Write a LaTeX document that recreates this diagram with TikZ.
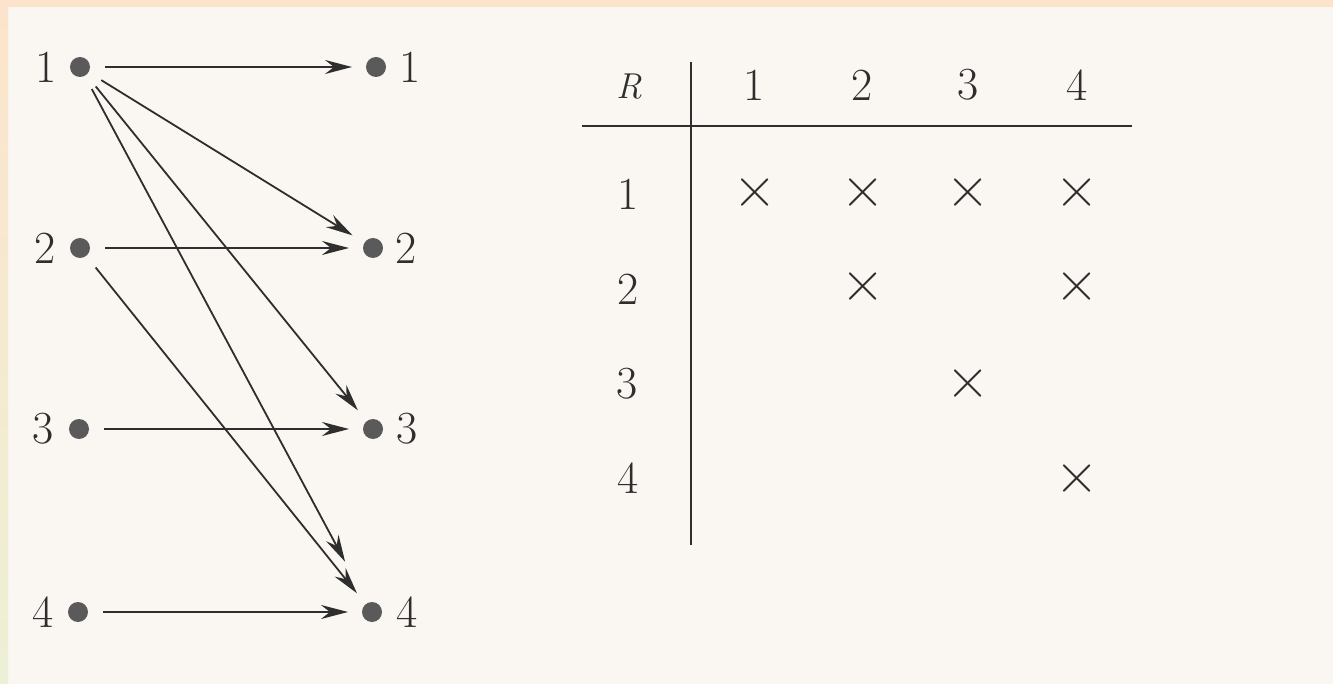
\documentclass[tikz,border=0pt]{standalone}
\usetikzlibrary{arrows.meta}
\definecolor{bgin}{HTML}{FAF6F1}
\definecolor{peach}{HTML}{FCE4CC}
\definecolor{sage}{HTML}{ECF0D6}
\definecolor{ink}{HTML}{2E2E2E}
\definecolor{dotc}{HTML}{5A5A5A}
\begin{document}
\begin{tikzpicture}[x=1pt,y=-1pt,
  dotnode/.style={circle,fill=dotc,minimum size=20pt,inner sep=0pt,outer sep=0pt},
  lab/.style={font=\fontsize{46}{46}\selectfont,text=ink,inner sep=0pt},
  rlab/.style={font=\fontsize{36}{36}\selectfont\itshape,text=ink,inner sep=0pt},
  xmk/.style={font=\fontsize{60}{60}\selectfont,text=ink,inner sep=0pt},
  arr/.style={draw=ink,line width=1.8pt,-{Stealth[length=27pt,width=14pt,inset=9pt]},shorten <=15pt,shorten >=14pt},
  rulel/.style={draw=ink,line width=2.2pt}]
% background
\fill[bgin] (0,0) rectangle (1333,684);
\fill[peach] (0,0) rectangle (1333,7);
\shade[top color=peach,bottom color=sage] (0,0) rectangle (8,684);
\useasboundingbox (0,0) rectangle (1333,684);
% dots
\node[dotnode] (l1) at (80,67) {};
\node[dotnode] (l2) at (80,248) {};
\node[dotnode] (l3) at (79,429) {};
\node[dotnode] (l4) at (78,612) {};
\node[dotnode] (r1) at (376,67) {};
\node[dotnode] (r2) at (373,248) {};
\node[dotnode] (r3) at (373,429) {};
\node[dotnode] (r4) at (372,612) {};
% labels
\node[lab] (ll1) at (46,67) {1};
\node[lab] (ll2) at (45,248) {2};
\node[lab] (ll3) at (43,429) {3};
\node[lab] (ll4) at (43,612) {4};
\node[lab] (rl1) at (410,67) {1};
\node[lab] (rl2) at (406,248) {2};
\node[lab] (rl3) at (407,429) {3};
\node[lab] (rl4) at (407,612) {4};
% arrows
\draw[arr] (l1) -- (r1);
\draw[arr] (l2) -- (r2);
\draw[arr] (l3) -- (r3);
\draw[arr] (l4) -- (r4);
\draw[arr] (l1) -- (r2);
\draw[arr] (l1) -- (r3);
\draw[arr,shorten >=47pt] (l1) -- (r4);
\draw[arr] (l2) -- (r4);
% table
\node[rlab] (R) at (629,87) {R};
\node[lab] (h1) at (754,85) {1};
\node[lab] (h2) at (862,85) {2};
\node[lab] (h3) at (968,85) {3};
\node[lab] (h4) at (1077,85) {4};
\node[lab] (c1) at (628,194) {1};
\node[lab] (c2) at (628,289) {2};
\node[lab] (c3) at (627,384) {3};
\node[lab] (c4) at (628,478) {4};
\coordinate (hl) at (582,126);
\coordinate (hr) at (1132,126);
\coordinate (vt) at (691,62);
\coordinate (vb) at (691,545);
\draw[rulel] (hl) -- (hr);
\draw[rulel] (vt) -- (vb);
\node[xmk] (x11) at (755,193) {×};
\node[xmk] (x12) at (863,193) {×};
\node[xmk] (x13) at (968,193) {×};
\node[xmk] (x14) at (1077,193) {×};
\node[xmk] (x22) at (863,287) {×};
\node[xmk] (x24) at (1077,287) {×};
\node[xmk] (x33) at (968,384) {×};
\node[xmk] (x44) at (1077,479) {×};
\end{tikzpicture}
\end{document}
